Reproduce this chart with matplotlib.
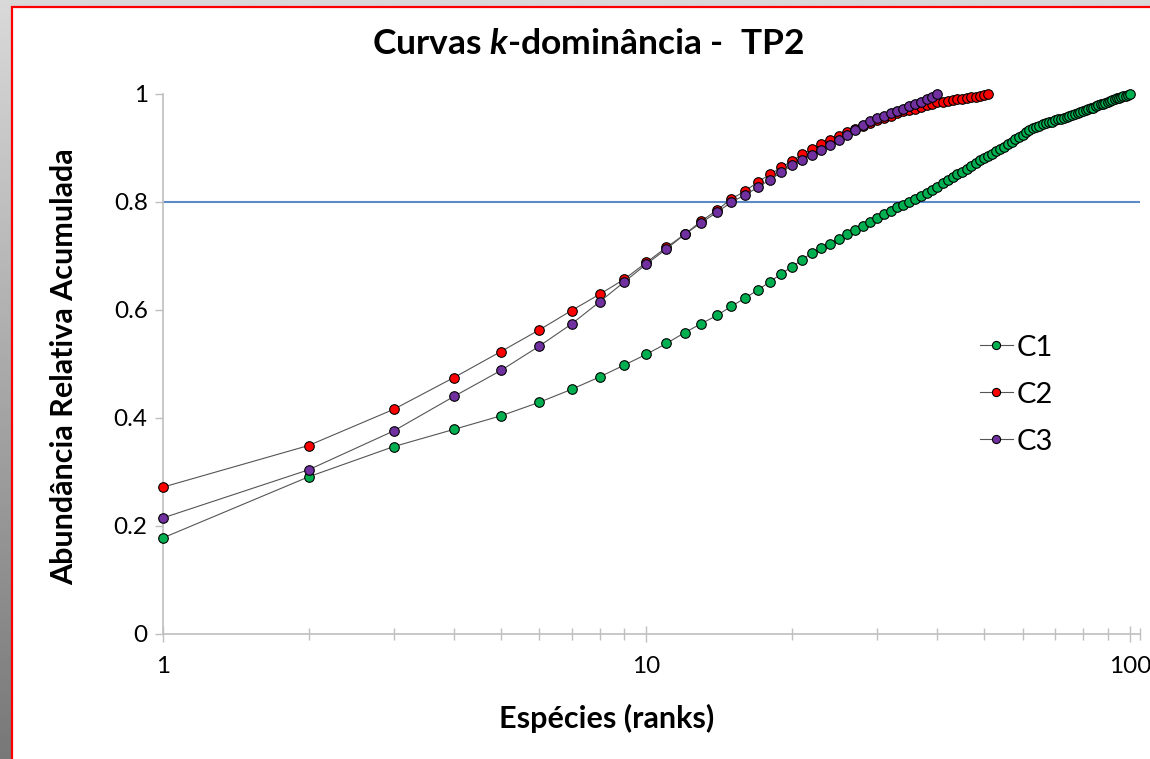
import numpy as np
import matplotlib
matplotlib.use("Agg")
import matplotlib.pyplot as plt
from matplotlib.patches import Rectangle
from matplotlib.ticker import FixedLocator, NullFormatter, FixedFormatter

plt.rcParams['font.family'] = ['Lato', 'DejaVu Sans']
plt.rcParams['mathtext.fontset'] = 'custom'
plt.rcParams['mathtext.rm'] = 'Lato:bold'
plt.rcParams['mathtext.it'] = 'Lato:italic:bold'

# Cumulative relative abundance by species rank
c1 = [0.178, 0.291, 0.347, 0.379, 0.404, 0.429, 0.453, 0.476, 0.498, 0.518,
      0.538, 0.558, 0.575, 0.590, 0.607, 0.622, 0.637, 0.652, 0.667, 0.680,
      0.693, 0.706, 0.714, 0.723, 0.732, 0.741, 0.748, 0.756, 0.763, 0.770,
      0.777, 0.783, 0.791, 0.794, 0.800, 0.805, 0.811, 0.817, 0.822, 0.828,
      0.835, 0.841, 0.846, 0.851, 0.856, 0.862, 0.867, 0.873, 0.877, 0.882,
      0.885, 0.889, 0.894, 0.898, 0.902, 0.907, 0.911, 0.916, 0.920, 0.925,
      0.929, 0.933, 0.937, 0.939, 0.941, 0.944, 0.946, 0.948, 0.949, 0.951,
      0.953, 0.954, 0.956, 0.958, 0.960, 0.961, 0.963, 0.965, 0.967, 0.968,
      0.970, 0.972, 0.974, 0.975, 0.977, 0.979, 0.981, 0.982, 0.984, 0.986,
      0.987, 0.989, 0.990, 0.992, 0.993, 0.995, 0.996, 0.997, 0.999, 1.000]
c2 = [0.272, 0.349, 0.416, 0.475, 0.523, 0.563, 0.599, 0.629, 0.657, 0.688,
      0.716, 0.740, 0.765, 0.785, 0.806, 0.820, 0.837, 0.851, 0.864, 0.876,
      0.888, 0.898, 0.907, 0.915, 0.923, 0.930, 0.935, 0.940, 0.946, 0.952,
      0.955, 0.960, 0.964, 0.968, 0.971, 0.973, 0.976, 0.979, 0.982, 0.985,
      0.986, 0.987, 0.988, 0.990, 0.991, 0.993, 0.994, 0.995, 0.997, 0.998,
      1.000]
c3 = [0.215, 0.304, 0.376, 0.440, 0.488, 0.533, 0.574, 0.615, 0.652, 0.685,
      0.713, 0.740, 0.762, 0.781, 0.800, 0.813, 0.827, 0.841, 0.855, 0.868,
      0.878, 0.887, 0.896, 0.906, 0.915, 0.924, 0.934, 0.942, 0.950, 0.956,
      0.960, 0.964, 0.969, 0.973, 0.977, 0.981, 0.986, 0.990, 0.995, 1.000]

series_names = ["C1", "C2", "C3"]
series_colors = ["#00B050", "#FF0000", "#7030A0"]
threshold = 0.8

W, H = 1150, 759
fig = plt.figure(figsize=(W / 100, H / 100), dpi=100)

# slide-like backdrop: grey gradient with a red-framed white panel
bg = fig.add_axes([0, 0, 1, 1], zorder=-10)
bg.axis("off")
grad = np.linspace(0.85, 0.47, 256)[:, None] * np.ones((1, 4))
bg.imshow(grad, cmap="gray", vmin=0, vmax=1, extent=[0, 1, 0, 1],
          aspect="auto", interpolation="bilinear")
bg.set_xlim(0, 1)
bg.set_ylim(0, 1)
bg.add_patch(Rectangle((12 / W, -0.05), 1.2, 1 - 7 / H + 0.05,
                       facecolor="white", edgecolor="#FF0000", linewidth=1.6,
                       clip_on=False))

ax = fig.add_axes([163 / W, 125 / H, (1140 - 163) / W, 540 / H])
ax.set_xscale("log")
ax.set_xlim(1, 105)
ax.set_ylim(0, 1)

for vals, name, col in zip([c1, c2, c3], series_names, series_colors):
    ranks = np.arange(1, len(vals) + 1)
    ax.plot(ranks, vals, color="#555555", linewidth=0.8, marker="o",
            markersize=6.9, markerfacecolor=col, markeredgecolor="black",
            markeredgewidth=0.8, label=name, zorder=3, clip_on=False)

ax.axhline(threshold, color="#5B8BC6", linewidth=1.5, zorder=2)

axis_gray = "#BFBFBF"
for s in ["top", "right"]:
    ax.spines[s].set_visible(False)
for s in ["left", "bottom"]:
    ax.spines[s].set_color(axis_gray)
    ax.spines[s].set_linewidth(1.2)

ax.xaxis.set_major_locator(FixedLocator([1, 10, 100]))
ax.xaxis.set_major_formatter(FixedFormatter(["1", "10", "100"]))
minor = [2, 3, 4, 5, 6, 7, 8, 9, 20, 30, 40, 50, 60, 70, 80, 90, 105]
ax.xaxis.set_minor_locator(FixedLocator(minor))
ax.xaxis.set_minor_formatter(NullFormatter())
ax.tick_params(axis="x", which="major", direction="inout", length=11,
               width=1, color=axis_gray, labelsize=17.5, pad=10)
ax.tick_params(axis="x", which="minor", direction="inout", length=9,
               width=1, color=axis_gray)
ax.set_yticks([0, 0.2, 0.4, 0.6, 0.8, 1.0])
ax.set_yticklabels(["0", "0.2", "0.4", "0.6", "0.8", "1"])
ax.tick_params(axis="y", direction="out", length=6, width=1,
               color=axis_gray, labelsize=17.5, pad=5)

fig.text(588 / W, 1 - 44 / H, r"Curvas $\mathit{k}$-dominância -  TP2",
         ha="center", va="center", fontsize=25.5, fontweight="bold")
fig.text(607 / W, 1 - 718 / H, "Espécies (ranks)", ha="center",
         va="center", fontsize=22, fontweight="bold")
fig.text(64 / W, 1 - 367 / H, "Abundância Relativa Acumulada", ha="center",
         va="center", rotation=90, fontsize=22, fontweight="bold")

leg = ax.legend(loc="upper left", bbox_to_anchor=(968 / W, 1 - 323 / H),
                bbox_transform=fig.transFigure, frameon=False,
                fontsize=21, handlelength=1.15, handletextpad=0.12,
                labelspacing=0.72, markerscale=0.85, borderaxespad=0)

fig.savefig("out.png", dpi=100)
